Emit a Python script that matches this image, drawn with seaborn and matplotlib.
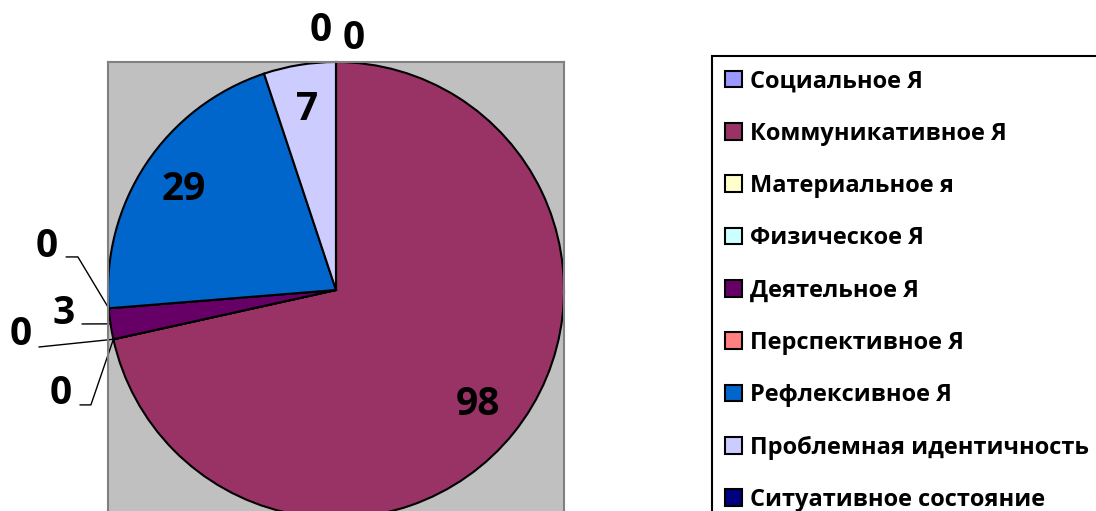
import numpy as np
import matplotlib
matplotlib.use('Agg')
import matplotlib.pyplot as plt
import seaborn as sns

# data
categories = ['Социальное Я', 'Коммуникативное Я', 'Материальное я', 'Физическое Я',
              'Деятельное Я', 'Перспективное Я', 'Рефлексивное Я',
              'Проблемная идентичность', 'Ситуативное состояние']
values = [0, 98, 0, 0, 3, 0, 29, 7, 0]
colors = ['#9999FF', '#993366', '#FFFFCC', '#CCFFFF', '#660066',
          '#FF8080', '#0066CC', '#CCCCFF', '#000080']

sns.set_theme(style='white')
plt.rcParams['font.family'] = ['Open Sans', 'DejaVu Sans']
plt.rcParams['text.color'] = 'black'

W, H = 1096, 511
fig = plt.figure(figsize=(W / 100, H / 100), dpi=100)
ax = fig.add_axes([108 / W, (H - 518) / H, 456 / W, 456 / H])
ax.set_facecolor('#C0C0C0')

palette = sns.color_palette(colors)
wedges, _ = ax.pie(values, colors=palette, startangle=90, counterclock=False,
                   wedgeprops=dict(edgecolor='black', linewidth=1.5), frame=True)
ax.set_xlim(-1, 1)
ax.set_ylim(-1, 1)
ax.set_aspect('equal')
ax.set_xticks([])
ax.set_yticks([])
for s in ax.spines.values():
    s.set_visible(True)
    s.set_edgecolor('#808080')
    s.set_linewidth(1.5)

""" data labels """
total = sum(values)
cum = np.cumsum([0] + values)
t0 = 90 - 360 * cum[:-1] / total
t1 = 90 - 360 * cum[1:] / total
mid = np.deg2rad((t0 + t1) / 2)

# outside label placement: text position and leader elbow points (axes units)
outside = {
    5: ((-1.268, 0.189), [(-1.184, 0.145), (-1.132, 0.145)]),
    4: ((-1.193, -0.101), [(-1.114, -0.149)]),
    2: ((-1.382, -0.197), [(-1.303, -0.25)]),
    3: ((-1.206, -0.452), [(-1.123, -0.504), (-1.075, -0.504)]),
    0: ((0.079, 1.105), []),
    8: ((-0.066, 1.140), []),
}
lab_font = dict(fontsize=28, fontweight='bold', color='black', ha='center', va='center')
for i, v in enumerate(values):
    if i in outside:
        (tx, ty), elbow = outside[i]
        ax.text(tx, ty, str(v), clip_on=False, **lab_font)
        if elbow:
            pts = elbow + [(np.cos(mid[i]), np.sin(mid[i]))]
            ax.plot([p[0] for p in pts], [p[1] for p in pts], color='black',
                    lw=1, clip_on=False)
    else:
        ax.text(0.8 * np.cos(mid[i]), 0.8 * np.sin(mid[i]), str(v), **lab_font)

""" legend """
leg = fig.legend(wedges, categories, loc='upper left',
                 bbox_to_anchor=(712 / W, 1 - 56 / H), borderaxespad=0,
                 prop=dict(size=17, weight='bold'), labelcolor='black',
                 frameon=True, fancybox=False,
                 edgecolor='black', framealpha=1, handlelength=0.72,
                 handleheight=0.72, handletextpad=0.34, labelspacing=1.2,
                 borderpad=0.56)
leg.get_frame().set_linewidth(1.5)

plt.savefig('out.png', dpi=100)
